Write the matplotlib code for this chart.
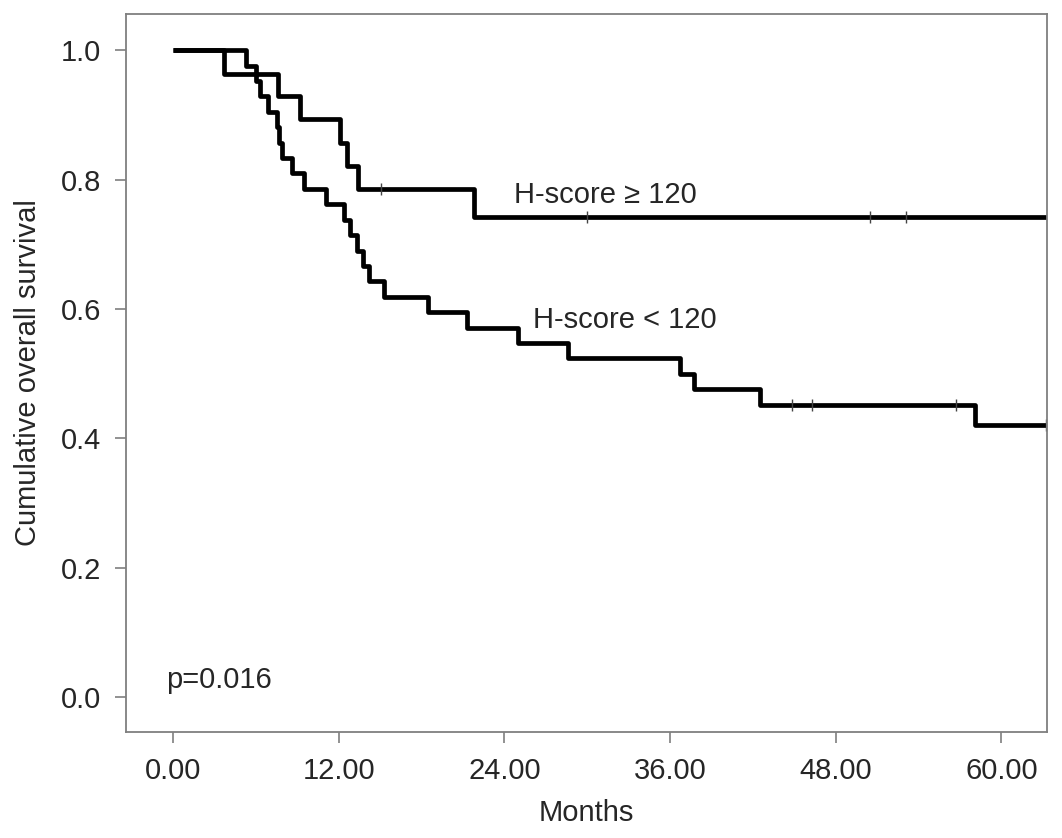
import numpy as np
import matplotlib
matplotlib.use("Agg")
import matplotlib.pyplot as plt

# Kaplan-Meier steps (months, cumulative survival)
high_times = [0, 3.7, 7.6, 9.2, 12.1, 12.6, 13.4, 21.8]
high_surv = [1.0, 0.964, 0.929, 0.893, 0.857, 0.821, 0.786, 0.742]
high_censor = [15.1, 30.0, 50.5, 53.1]
high_end = 63.3

low_times = [0, 5.3, 6.0, 6.3, 6.9, 7.5, 7.7, 7.9, 8.6, 9.5, 11.1, 12.4, 12.8,
             13.3, 13.8, 14.2, 15.3, 18.5, 21.3, 25.0, 28.6, 36.7, 37.7, 42.5, 58.1]
low_surv = [1.0, 0.976, 0.952, 0.929, 0.905, 0.881, 0.857, 0.833, 0.810, 0.786,
            0.762, 0.738, 0.714, 0.690, 0.667, 0.643, 0.619, 0.595, 0.571, 0.548,
            0.524, 0.500, 0.476, 0.452, 0.420]
low_censor = [44.8, 46.3, 56.7, 63.2]
low_end = 63.2

xticks = [0, 12, 24, 36, 48, 60]
yticks = [0.0, 0.2, 0.4, 0.6, 0.8, 1.0]

plt.rcParams['font.family'] = ['Liberation Sans', 'DejaVu Sans']
plt.rcParams['font.size'] = 21

fig = plt.figure(figsize=(10.62, 8.38), dpi=100)
ax = fig.add_axes([126 / 1062, 1 - 732 / 838, 921 / 1062, 718 / 838])


def surv_at(times, surv, t):
    idx = np.searchsorted(times, t, side='right') - 1
    return np.asarray(surv)[idx]


for times, surv, cens, end in [(high_times, high_surv, high_censor, high_end),
                               (low_times, low_surv, low_censor, low_end)]:
    t = list(times) + [end]
    s = list(surv) + [surv[-1]]
    ax.step(t, s, where='post', color='black', lw=3.4, solid_capstyle='butt')
    ax.plot(cens, surv_at(times, surv, cens), linestyle='none', marker='|',
            markersize=9, markeredgewidth=1.0, color='#444444')

txt = '#262626'
ax.text(24.7, 0.7635, 'H-score \u2265 120', color=txt, va='baseline')
ax.text(26.1, 0.570, 'H-score < 120', color=txt, va='baseline')
ax.text(-0.5, 0.014, 'p=0.016', color=txt, va='baseline')

ax.set_xlim(-3.4, 63.3)
ax.set_ylim(-0.054, 1.056)
ax.set_xticks(xticks)
ax.set_xticklabels(['%.2f' % v for v in xticks])
ax.set_yticks(yticks)
ax.set_yticklabels(['%.1f' % v for v in yticks])

for sp in ax.spines.values():
    sp.set_color('#7f7f7f')
    sp.set_linewidth(1.3)
ax.tick_params(length=8, width=1.2, color='#7f7f7f', labelcolor=txt,
               labelsize=21, pad=10)

ax.set_xlabel('Months', color=txt, labelpad=10)
ax.set_ylabel('Cumulative overall survival', color=txt)
ax.yaxis.set_label_coords(-0.091, 0.5)

fig.savefig('out.png', dpi=100)
